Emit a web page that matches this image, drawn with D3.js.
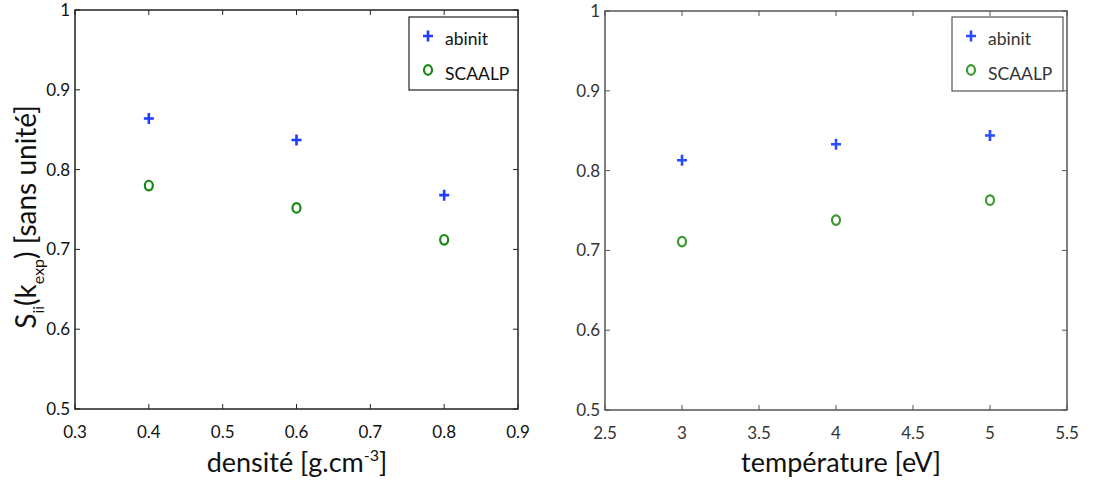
<!DOCTYPE html>
<html><head><meta charset="utf-8">
<script src="https://cdn.jsdelivr.net/npm/d3@7"></script>
<style>
body{margin:0;background:#fff;}
text{font-family:Lato,"Open Sans",sans-serif;}
</style></head>
<body><svg id="c" width="1102" height="487"></svg>
<script>
// Data
const densite = [0.4, 0.6, 0.8];
const abinitDensite = [0.864, 0.837, 0.768];
const scaalpDensite = [0.780, 0.752, 0.712];
const temperature = [3, 4, 5];
const abinitTemp = [0.813, 0.833, 0.844];
const scaalpTemp = [0.711, 0.738, 0.763];
const yTicks = [0.5, 0.6, 0.7, 0.8, 0.9, 1];
const xTicksLeft = [0.3, 0.4, 0.5, 0.6, 0.7, 0.8, 0.9];
const xTicksRight = [2.5, 3, 3.5, 4, 4.5, 5, 5.5];
const seriesNames = ["abinit", "SCAALP"];

const svg = d3.select("#c");

function panel(cfg){
  const g = svg.append("g");
  const x = d3.scaleLinear().domain(cfg.xdom).range([cfg.x0, cfg.x1]);
  const y = d3.scaleLinear().domain([0.5, 1]).range([cfg.y1, cfg.y0]);
  const ax = cfg.axisColor, tc = cfg.textColor;
  g.append("rect").attr("x", cfg.x0).attr("y", cfg.y0).attr("width", cfg.x1-cfg.x0).attr("height", cfg.y1-cfg.y0)
    .attr("fill","none").attr("stroke",ax).attr("stroke-width",1.5);
  const tl = 5;
  cfg.xticks.forEach(t=>{
    g.append("line").attr("x1",x(t)).attr("x2",x(t)).attr("y1",cfg.y1).attr("y2",cfg.y1-tl).attr("stroke",ax).attr("stroke-width",1);
    g.append("line").attr("x1",x(t)).attr("x2",x(t)).attr("y1",cfg.y0).attr("y2",cfg.y0+tl).attr("stroke",ax).attr("stroke-width",1);
    g.append("text").attr("x",x(t)).attr("y",cfg.y1+29).attr("text-anchor","middle")
      .attr("font-size",17).attr("fill",tc).text(String(t));
  });
  yTicks.forEach(t=>{
    g.append("line").attr("x1",cfg.x0).attr("x2",cfg.x0+tl).attr("y1",y(t)).attr("y2",y(t)).attr("stroke",ax).attr("stroke-width",1);
    g.append("line").attr("x1",cfg.x1).attr("x2",cfg.x1-tl).attr("y1",y(t)).attr("y2",y(t)).attr("stroke",ax).attr("stroke-width",1);
    g.append("text").attr("x",cfg.x0-5).attr("y",y(t)+6).attr("text-anchor","end")
      .attr("font-size",17).attr("fill",tc).text(String(t));
  });
  const plus = (gg,cx,cy,col)=>{
    gg.append("path").attr("d",`M${cx-5},${cy}H${cx+5}M${cx},${cy-5.5}V${cy+5.5}`)
      .attr("stroke",col).attr("stroke-width",2.6).attr("fill","none");
  };
  const circ = (gg,cx,cy,col)=>{
    gg.append("ellipse").attr("cx",cx).attr("cy",cy).attr("rx",4).attr("ry",4.8)
      .attr("stroke",col).attr("stroke-width",2.2).attr("fill","none");
  };
  cfg.xs.forEach((v,i)=>{ plus(g,x(v),y(cfg.a[i]),cfg.blue); });
  cfg.xs.forEach((v,i)=>{ circ(g,x(v),y(cfg.s[i]),cfg.green); });
  const L = cfg.leg;
  g.append("rect").attr("x",L.x).attr("y",L.y).attr("width",L.w).attr("height",L.h)
    .attr("fill","#fff").attr("stroke",ax).attr("stroke-width",1.2);
  plus(g,L.x+19,L.y+19,cfg.blue);
  g.append("text").attr("x",L.x+36).attr("y",L.y+28).attr("font-size",17.5).attr("fill",tc).text(seriesNames[0]);
  circ(g,L.x+19,L.y+53,cfg.green);
  g.append("text").attr("x",L.x+36).attr("y",L.y+63).attr("font-size",17.5).attr("fill",tc).text(seriesNames[1]);
  const xt = g.append("text").attr("x",cfg.xtX).attr("y",472).attr("text-anchor","middle")
    .attr("font-size",27).attr("fill",cfg.titleColor);
  cfg.xtitle(xt);
  return {x,y};
}

panel({x0:75,x1:518,y0:10,y1:409,xdom:[0.3,0.9],xticks:xTicksLeft,xs:densite,a:abinitDensite,s:scaalpDensite,
  axisColor:"#222",textColor:"#111",titleColor:"#111",blue:"#1f3cff",green:"#128a12",
  leg:{x:409,y:17,w:109,h:73},xtX:297,
  xtitle:t=>{t.append("tspan").text("densité [g.cm");t.append("tspan").attr("font-size",16).attr("dy",-11).text("-3");t.append("tspan").attr("dy",11).text("]");}
});
panel({x0:605,x1:1067,y0:11,y1:410,xdom:[2.5,5.5],xticks:xTicksRight,xs:temperature,a:abinitTemp,s:scaalpTemp,
  axisColor:"#555",textColor:"#333",titleColor:"#111",blue:"#2a4cff",green:"#3a9a30",
  leg:{x:952,y:17,w:111,h:74},xtX:841,
  xtitle:t=>{t.text("température [eV]");}
});

const yt = svg.append("text").attr("transform","translate(36,217) rotate(-90)").attr("text-anchor","middle")
  .attr("font-size",28).attr("fill","#111");
yt.append("tspan").text("S");
yt.append("tspan").attr("font-size",16).attr("dy",8).text("ii");
yt.append("tspan").attr("dy",-8).text("(k");
yt.append("tspan").attr("font-size",16).attr("dy",8).text("exp");
yt.append("tspan").attr("dy",-8).text(")  [sans unité]");
</script></body></html>
